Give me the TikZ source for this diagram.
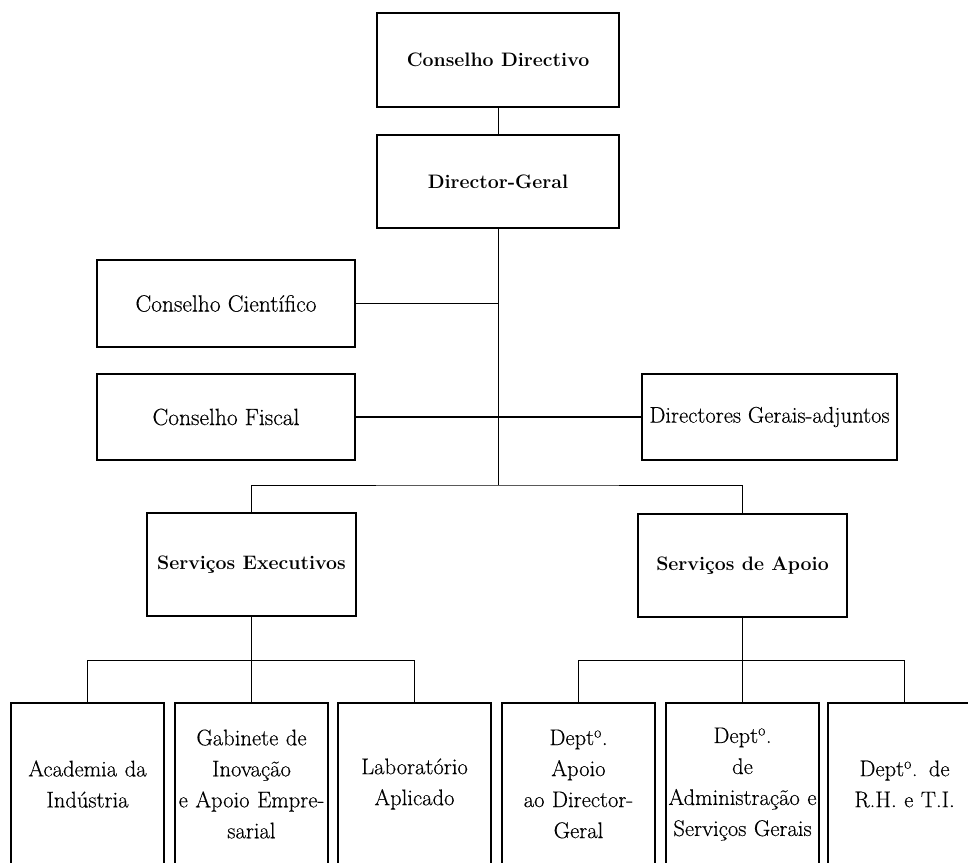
\documentclass[tikz,border=0pt]{standalone}
\usepackage{fontspec}
\newfontfamily\heavyrm[FakeBold=0.35]{Latin Modern Roman}
\begin{document}
\begin{tikzpicture}[x=1pt,y=-1pt,
  box/.style={draw=black, line width=1.3pt, inner sep=0pt, outer sep=0pt, align=center, text=black},
  headbox/.style={box, font=\fontsize{19.5}{24}\selectfont\bfseries},
  plainbox/.style={box, font=\heavyrm\fontsize{23.5}{28}\selectfont},
  leafbox/.style={box, minimum width=153pt, minimum height=162pt, text width=151pt, font=\heavyrm\fontsize{22.6}{31}\selectfont},
  conn/.style={draw=black, line width=1pt},
  thickconn/.style={draw=black, line width=1.8pt}]
\useasboundingbox (0,0) rectangle (968,862);
\clip (0,0) rectangle (968,862);
\fill[white] (0,0) rectangle (968,862);

\node[headbox, minimum width=242pt, minimum height=94pt] (cd) at (498,60) {Conselho Directivo};
\node[headbox, minimum width=242pt, minimum height=93pt] (dg) at (498,181.5) {Director-Geral};
\node[plainbox, minimum width=258pt, minimum height=87pt] (cc) at (226,303.5) {Conselho Científico};
\node[plainbox, minimum width=258pt, minimum height=86pt] (cf) at (226,417) {Conselho Fiscal};
\node[plainbox, minimum width=255pt, minimum height=86pt, font=\heavyrm\fontsize{22.6}{28}\selectfont] (dga) at (769.5,417) {Directores Gerais-adjuntos};
\node[headbox, minimum width=209pt, minimum height=103pt] (se) at (251.5,564.5) {Serviços Executivos};
\node[headbox, minimum width=209pt, minimum height=103pt] (sa) at (742.5,565.5) {Serviços de Apoio};

\node[leafbox] (b1) at (87.5,784) {Academia da\\Indústria};
\node[leafbox] (b2) at (251.5,784) {Gabinete de\\Inovação\\e Apoio Empre-\\sarial};
\node[leafbox] (b3) at (414.5,784) {Laboratório\\Aplicado};
\node[leafbox] (b4) at (578.5,784) {Dept\textsuperscript{o}.\\Apoio\\ao Director-\\Geral};
\node[leafbox] (b5) at (742.5,784) {Dept\textsuperscript{o}.\\de\\Administração e\\Serviços Gerais};
\node[leafbox] (b6) at (904.5,784) {Dept\textsuperscript{o}. de\\R.H. e T.I.};

\coordinate (j1) at (498,485);
\coordinate (j2) at (251.5,660);
\coordinate (j3) at (742.5,660);

\draw[conn] (cd) -- (dg);
\draw[conn] (dg) -- (j1);
\draw[conn] (cc.east) -- (cc.east -| j1);
\draw[thickconn] (cf.east) -- (dga.west);
\draw[conn] (se.north) |- (j1) -| (sa.north);
\draw[conn] (se) -- (j2);
\draw[conn] (b1.north) |- (j2) -| (b3.north);
\draw[conn] (j2) -- (b2.north);
\draw[conn] (sa) -- (j3);
\draw[conn] (b4.north) |- (j3) -| (b6.north);
\draw[conn] (j3) -- (b5.north);
\end{tikzpicture}
\end{document}
